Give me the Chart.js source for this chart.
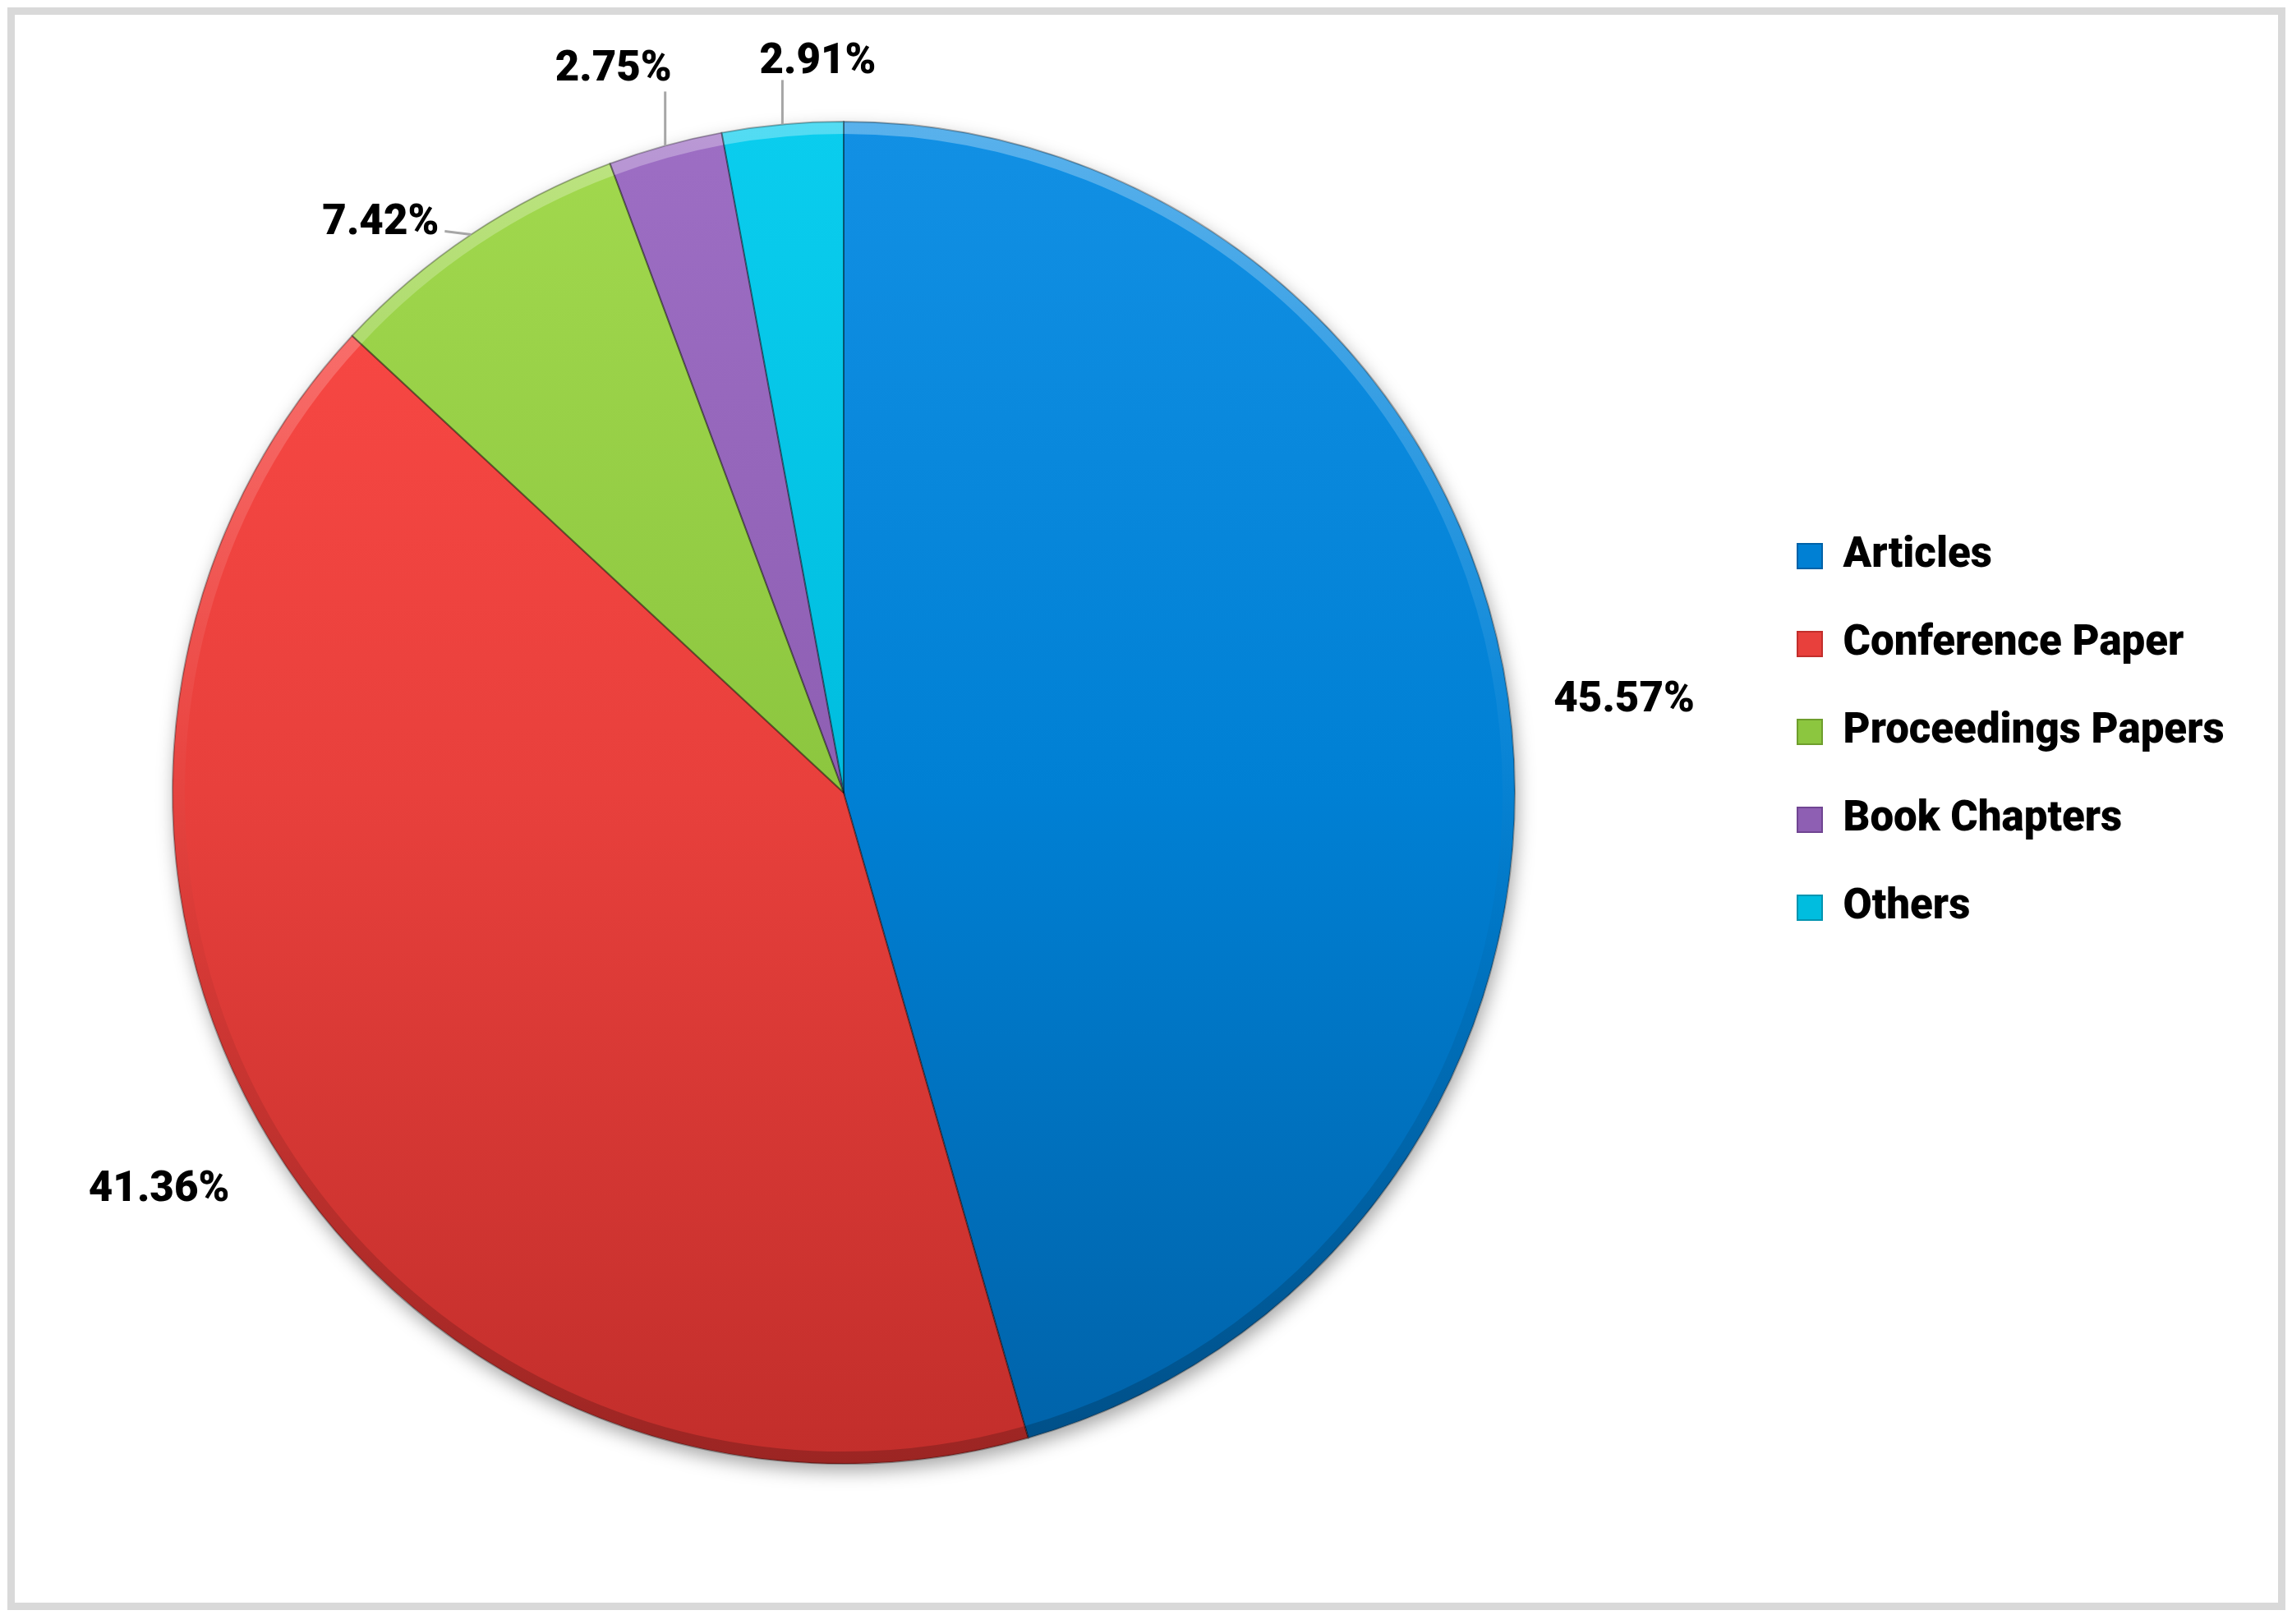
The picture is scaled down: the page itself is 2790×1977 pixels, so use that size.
<!DOCTYPE html>
<html>
<head>
<meta charset="UTF-8">
<title>Document types</title>
<script src="https://cdn.jsdelivr.net/npm/chart.js@4.4.0/dist/chart.umd.min.js"></script>
<style>
    html, body { margin: 0; padding: 0; background: #fff; overflow: hidden; }
    body { width: 2790px; height: 1977px; position: relative; }
    #frame { position: absolute; left: 9px; top: 9px; width: 2773px; height: 1951px; box-sizing: border-box; border: 9px solid #d9d9d9; }
    #wrap { position: absolute; left: -200px; top: 0; width: 2990px; height: 1977px; }
</style>
</head>
<body>
<div id="frame"></div>
<div id="wrap"><canvas id="pie"></canvas></div>

<script>
    // data
    var categories = ['Articles', 'Conference Paper', 'Proceedings Papers', 'Book Chapters', 'Others'];
    var shares = [45.57, 41.36, 7.42, 2.75, 2.91];

    // slice colours: mid tone, top (light) and bottom (dark) of the gradient
    var baseColors = ['#0080d4', '#e8403c', '#8cc63f', '#8e5fb3', '#00bddf'];
    var lightColors = ['#1290e4', '#fd4a46', '#a2d94e', '#9d6ec4', '#0acdee'];
    var darkColors = ['#0062a8', '#c22e2b', '#6e9e2c', '#704592', '#0094b0'];

    // where each percentage sits, relative to the slice's outer edge point
    var labelPlacement = [
        { dx: 141, dy: 2 },
        { dx: -137, dy: 57 },
        { dx: -110, dy: -13, leader: [-32, -4] },
        { dx: -63, dy: -92, leader: [0, -66] },
        { dx: 43, dy: -75, leader: [0, -54] }
    ];

    var PIE_R = 817;
    var PIE_CX = 1227;          // pie centre x in canvas px (canvas is shifted 200px left)
    var AREA_RIGHT = 2332;      // chart area right edge in canvas px
    var LEGEND_PAD = 56;
    var FONT_SIZE = 51;
    var FONT_FAMILY = 'Roboto';
    var FONT_WEIGHT = 900;
    var LEGEND_FIRST_Y = 677;

    Chart.defaults.font.family = FONT_FAMILY;

    function sliceFill(ctx) {
        var chart = ctx.chart, area = chart.chartArea, i = ctx.dataIndex;
        if (!area) return baseColors[i];
        var cy = (area.top + area.bottom) / 2;
        var g = chart.ctx.createLinearGradient(0, cy - PIE_R, 0, cy + PIE_R);
        g.addColorStop(0, lightColors[i]);
        g.addColorStop(0.5, baseColors[i]);
        g.addColorStop(1, darkColors[i]);
        return g;
    }

    function slicePath(c, p) {
        c.beginPath();
        c.moveTo(p.x, p.y);
        c.arc(p.x, p.y, p.outerRadius, p.startAngle, p.endAngle);
        c.closePath();
    }

    var sliceDecor = {
        id: 'sliceDecor',
        beforeDatasetsDraw: function (chart) {
            var arc = chart.getDatasetMeta(0).data[0];
            if (!arc) return;
            var p = arc.getProps(['x', 'y', 'outerRadius'], true);
            var c = chart.ctx;
            c.save();
            c.shadowColor = 'rgba(0,0,0,0.35)';
            c.shadowBlur = 22;
            c.shadowOffsetX = 3;
            c.shadowOffsetY = 9;
            c.beginPath();
            c.arc(p.x, p.y, p.outerRadius, 0, Math.PI * 2);
            c.fillStyle = '#fff';
            c.fill();
            c.restore();
        },
        afterDatasetsDraw: function (chart) {
            var c = chart.ctx;
            var meta = chart.getDatasetMeta(0);

            // soft bevel along the rim: lighter on top, darker on bottom
            meta.data.forEach(function (arc) {
                var p = arc.getProps(['x', 'y', 'startAngle', 'endAngle', 'outerRadius'], true);
                c.save();
                slicePath(c, p);
                c.clip();
                var g = c.createLinearGradient(0, p.y - p.outerRadius, 0, p.y + p.outerRadius);
                g.addColorStop(0, 'rgba(255,255,255,0.3)');
                g.addColorStop(0.45, 'rgba(255,255,255,0.04)');
                g.addColorStop(0.6, 'rgba(0,0,0,0.03)');
                g.addColorStop(1, 'rgba(0,0,0,0.2)');
                c.beginPath();
                c.arc(p.x, p.y, p.outerRadius, p.startAngle, p.endAngle);
                c.strokeStyle = g;
                c.lineWidth = 30;
                c.stroke();
                c.restore();

                c.save();
                slicePath(c, p);
                c.strokeStyle = 'rgba(0,0,0,0.3)';
                c.lineWidth = 2;
                c.stroke();
                c.restore();
            });

            // percentage labels
            c.save();
            c.font = FONT_WEIGHT + ' ' + FONT_SIZE + 'px ' + FONT_FAMILY;
            c.fillStyle = '#000';
            c.textAlign = 'center';
            c.textBaseline = 'middle';
            meta.data.forEach(function (arc, i) {
                var p = arc.getProps(['x', 'y', 'startAngle', 'endAngle', 'outerRadius'], true);
                var mid = (p.startAngle + p.endAngle) / 2;
                var ex = p.x + Math.cos(mid) * p.outerRadius;
                var ey = p.y + Math.sin(mid) * p.outerRadius;
                var pl = labelPlacement[i];
                if (pl.leader) {
                    c.beginPath();
                    c.moveTo(ex, ey);
                    c.lineTo(ex + pl.leader[0], ey + pl.leader[1]);
                    c.strokeStyle = '#a6a6a6';
                    c.lineWidth = 3;
                    c.stroke();
                }
                c.fillText(shares[i].toFixed(2) + '%', ex + pl.dx, ey + pl.dy);
            });
            c.restore();
        }
    };

    function build() {
        var chart = new Chart(document.getElementById('pie'), {
            type: 'pie',
            data: {
                labels: categories,
                datasets: [{
                    data: shares,
                    backgroundColor: sliceFill,
                    borderWidth: 0,
                    radius: PIE_R
                }]
            },
            options: {
                responsive: true,
                maintainAspectRatio: false,
                devicePixelRatio: 1,
                animation: false,
                events: [],
                radius: PIE_R,
                layout: { padding: { left: 118, top: 0, bottom: 47, right: 88 } },
                plugins: {
                    tooltip: { enabled: false },
                    legend: {
                        position: 'right',
                        align: 'start',
                        title: { display: true, text: '', font: { size: 10, lineHeight: 1 }, padding: { top: 582, bottom: 0 } },
                        labels: {
                            boxWidth: 30,
                            boxHeight: 30,
                            padding: LEGEND_PAD,
                            color: '#000',
                            font: { family: FONT_FAMILY, size: FONT_SIZE, weight: FONT_WEIGHT, lineHeight: 1.2 },
                            generateLabels: function () {
                                return categories.map(function (name, i) {
                                    return {
                                        text: name,
                                        fillStyle: baseColors[i],
                                        strokeStyle: darkColors[i],
                                        fontColor: '#000',
                                        lineWidth: 2,
                                        hidden: false,
                                        index: i,
                                        datasetIndex: 0
                                    };
                                });
                            }
                        }
                    }
                }
            },
            plugins: [sliceDecor]
        });

        // line the chart area and legend up with the reference
        var pad = chart.options.layout.padding;
        chart.options.layout.padding = {
            left: 2 * PIE_CX - AREA_RIGHT, top: 0, bottom: 47,
            right: pad.right + (chart.chartArea.right - AREA_RIGHT)
        };
        chart.options.plugins.legend.title.padding = {
            top: LEGEND_FIRST_Y - FONT_SIZE / 2 - LEGEND_PAD - 10 - chart.legend.top,
            bottom: 0
        };
        chart.update();
    }

    if (document.fonts && document.fonts.load) {
        document.fonts.load(FONT_WEIGHT + ' ' + FONT_SIZE + 'px ' + FONT_FAMILY).then(build, build);
    } else {
        build();
    }
</script>
</body>
</html>
